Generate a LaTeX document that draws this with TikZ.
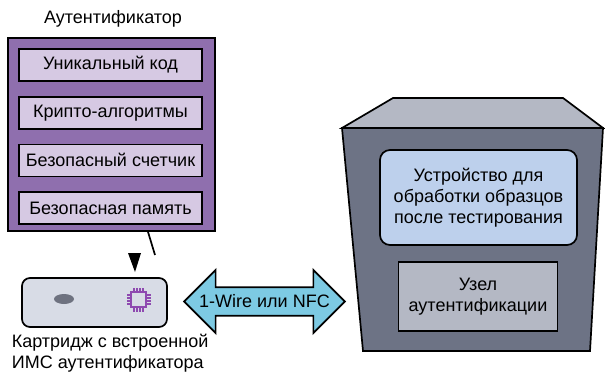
\documentclass[tikz,border=0pt]{standalone}
\usepackage{fontspec}
\setmainfont{Liberation Sans}
\usetikzlibrary{positioning,shapes.arrows}

\definecolor{authpurple}{HTML}{8F6FAE}
\definecolor{lavender}{HTML}{D6C9E3}
\definecolor{cartgray}{HTML}{D8DCE6}
\definecolor{ovalgray}{HTML}{6E7280}
\definecolor{chippurple}{HTML}{8E4AB0}
\definecolor{wireblue}{HTML}{7DCAE3}
\definecolor{lidgray}{HTML}{B4B8C4}
\definecolor{bodygray}{HTML}{6D7385}
\definecolor{stationblue}{HTML}{BDD0EC}

\begin{document}
\begin{tikzpicture}[x=1pt, y=-1pt, line width=1.7pt,
    font=\fontsize{18}{21}\selectfont,
    slot/.style={draw, fill=lavender, minimum width=183pt, minimum height=32pt, inner sep=0pt}]
    \useasboundingbox (0,0) rectangle (605,373);

    % authenticator with its four blocks
    \node at (113,19) (Title) {Аутентификатор};
    \node[draw, fill=authpurple, minimum width=207pt, minimum height=193pt] at (111.5,134.5) (Auth) {};
    \node[slot] at (110.5,65) (Code) {Уникальный код};
    \node[slot, below=14pt of Code] (Crypto) {Крипто-алгоритмы};
    \node[slot, below=14pt of Crypto] (Counter) {Безопасный счетчик};
    \node[slot, below=14pt of Counter] (Memory) {Безопасная память};

    \coordinate (Hint) at (155,255);
    \draw ([xshift=36.5pt]Auth.south) -- (Hint);
    \fill (128,253) -- (141,253) -- (135,272) -- cycle;

    % cartridge
    \node[draw, fill=cartgray, rounded corners=8pt, minimum width=145pt, minimum height=49pt] at (94.5,302.5) (Cart) {};
    \fill[ovalgray] (64,299) ellipse [x radius=10, y radius=5];
    \begin{scope}[shift={(138.5,299.5)}, chippurple, line width=2.2pt]
        \draw (-7.5,-7.5) rectangle (7.5,7.5);
        \foreach \p in {-4.5,-1.5,1.5,4.5} {
            \draw[line width=1.3pt] (\p,-7.5) -- (\p,-12);
            \draw[line width=1.3pt] (\p,7.5) -- (\p,12);
            \draw[line width=1.3pt] (-7.5,\p) -- (-12,\p);
            \draw[line width=1.3pt] (7.5,\p) -- (12,\p);
        }
    \end{scope}
    \node[anchor=north west, align=left, inner sep=0pt] at (11,333) (Caption) {Картридж с встроенной\\ИМС аутентификатора};

    \node[double arrow, draw, fill=wireblue, double arrow head extend=11.5pt, double arrow tip angle=90,
        minimum height=157pt, minimum width=63pt, inner xsep=0pt, inner ysep=2pt] at (264.5,301.5) (Link) {1-Wire или NFC};

    % test station
    \draw[fill=lidgray] (342,128) -- (393,98) -- (563,98) -- (603,128) -- cycle;
    \draw[fill=bodygray] (342,128) -- (603,128) -- (590,351) -- (363,351) -- cycle;
    \node[draw, fill=stationblue, rounded corners=10pt, minimum width=197pt, minimum height=95pt, align=center] at (478.5,197.5) (Station) {Устройство для\\обработки образцов\\после тестирования};
    \node[draw, fill=lidgray, minimum width=159pt, minimum height=69pt, align=center] at (478,296.5) (AuthNode) {Узел\\аутентификации};
\end{tikzpicture}
\end{document}
